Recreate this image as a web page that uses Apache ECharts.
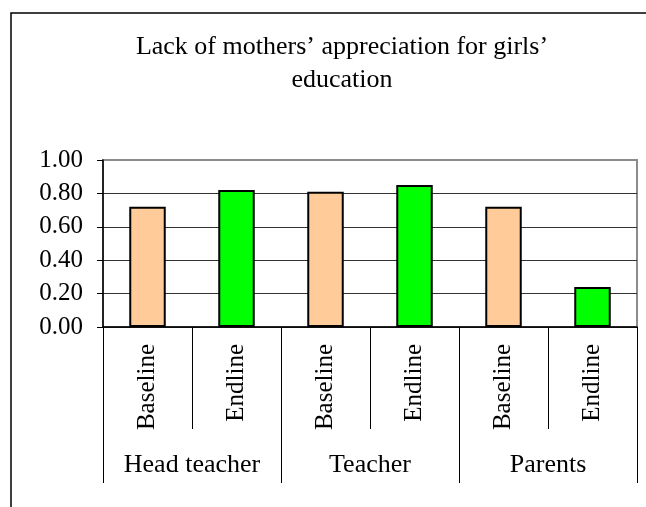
<!DOCTYPE html>
<html>
<head>
<meta charset="utf-8">
<script src="https://cdn.jsdelivr.net/npm/echarts@6/dist/echarts.min.js"></script>
<style>
  html, body { margin: 0; padding: 0; background: #fff; }
  #chart { width: 646px; height: 507px; }
</style>
</head>
<body>
<div id="chart"></div>
<script>
const titleText = 'Lack of mothers\u2019 appreciation for girls\u2019\neducation';
const groups = ['Head teacher', 'Teacher', 'Parents'];
const phases = ['Baseline', 'Endline', 'Baseline', 'Endline', 'Baseline', 'Endline'];
const values = [0.72, 0.82, 0.81, 0.85, 0.72, 0.24];
const yTicks = [0, 0.2, 0.4, 0.6, 0.8, 1.0];

// fill per phase
const phaseColors = { Baseline: '#FFCC99', Endline: '#00FF00' };
const serif = '"Liberation Serif", "Times New Roman", serif';

const chart = echarts.init(document.getElementById('chart'));

chart.setOption({
  animation: false,
  backgroundColor: '#fff',
  title: {
    text: titleText,
    left: 337,
    top: 26,
    textAlign: 'center',
    textStyle: {
      fontFamily: serif,
      fontWeight: 'normal',
      fontSize: 26,
      lineHeight: 33,
      color: '#000'
    }
  },
  graphic: [
    {
      type: 'rect',
      shape: { x: 11, y: 13, width: 720, height: 620 },
      style: { fill: 'none', stroke: '#000', lineWidth: 1.5 },
      silent: true
    }
  ],
  grid: {
    left: 103,
    right: 9,
    top: 160,
    bottom: 180,
    show: true,
    borderColor: '#8c8c8c',
    borderWidth: 2
  },
  xAxis: [
    {
      type: 'category',
      data: phases,
      position: 'bottom',
      axisLine: { lineStyle: { color: '#000', width: 1.5 } },
      axisTick: { show: true, length: 102, lineStyle: { color: '#000', width: 1 } },
      axisLabel: {
        rotate: 90,
        margin: 17,
        interval: 0,
        fontFamily: serif,
        fontSize: 25,
        color: '#000'
      }
    },
    {
      type: 'category',
      data: groups,
      position: 'bottom',
      axisLine: { show: false },
      axisTick: { show: true, length: 156, lineStyle: { color: '#000', width: 1 } },
      axisLabel: {
        margin: 125,
        interval: 0,
        fontFamily: serif,
        fontSize: 26,
        color: '#000'
      }
    }
  ],
  yAxis: {
    type: 'value',
    min: yTicks[0],
    max: yTicks[yTicks.length - 1],
    interval: 0.2,
    axisLine: { show: true, lineStyle: { color: '#000', width: 1.5 } },
    axisTick: { show: true, length: 6, lineStyle: { color: '#000' } },
    axisLabel: {
      margin: 20,
      fontFamily: serif,
      fontSize: 25,
      color: '#000',
      formatter: v => v.toFixed(2)
    },
    splitLine: { showMaxLine: false, lineStyle: { color: '#333', width: 1 } }
  },
  series: [
    {
      type: 'bar',
      xAxisIndex: 0,
      barWidth: '41%',
      data: values.map((v, i) => ({
        value: v,
        itemStyle: { color: phaseColors[phases[i]] }
      })),
      itemStyle: { borderColor: '#000', borderWidth: 2 }
    }
  ]
});
</script>
</body>
</html>
